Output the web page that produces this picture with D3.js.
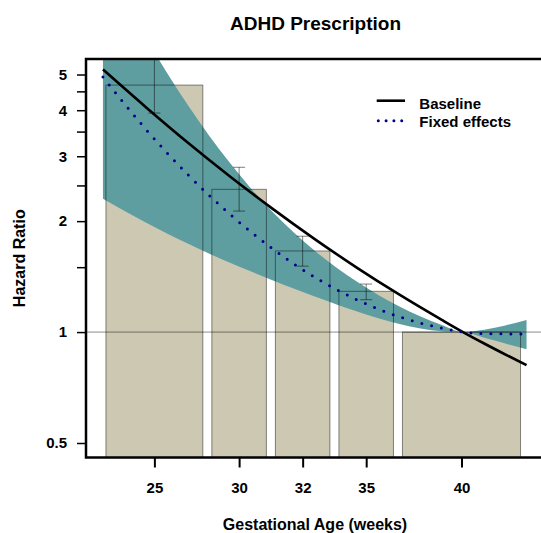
<!DOCTYPE html>
<html>
<head>
<meta charset="utf-8">
<script src="https://cdn.jsdelivr.net/npm/d3@7"></script>
<style>
  html, body { margin: 0; padding: 0; background: #fff; }
  svg { display: block; }
  text { font-family: "Liberation Sans", Arial, Helvetica, sans-serif; font-weight: bold; fill: #000; }
</style>
</head>
<body>
<svg id="chart" width="541" height="533"></svg>
<script>
// Histogram bars: gestational-age bins (weeks) and their hazard ratios
const barLabels = ["25", "30", "32", "35", "40"];
const binStart  = [23, 28, 31, 34, 37];
const binEnd    = [28, 31, 34, 37, 43];
const barHR     = [4.68, 2.44, 1.66, 1.29, 1.00];
const barLow    = [3.93, 2.13, 1.51, 1.224, null];
const barHigh   = [5.57, 2.80, 1.82, 1.35, null];

// Baseline model curve
const baseWeeks = [23, 25, 27, 29, 31, 33, 35, 37, 39, 40, 41, 43];
const baseHR    = [5.16, 4.09, 3.27, 2.645, 2.163, 1.788, 1.494, 1.263, 1.079, 1.00, 0.931, 0.813];

// Fixed-effects model curve
const fixedWeeks = [23, 25, 27, 29, 31, 33, 35, 37, 39, 40, 41, 43];
const fixedHR    = [4.92, 3.565, 2.678, 2.087, 1.684, 1.409, 1.223, 1.100, 1.025, 1.00, 0.990, 0.988];

// 95% confidence band of the fixed-effects curve
const bandWeeks = [23, 24, 25, 26, 27, 28, 29, 30, 31, 32, 33, 34, 35, 36, 37, 38, 39, 40, 41, 42, 43];
const bandUpper = [10.28, 8.0, 6.33, 5.08, 4.137, 3.421, 2.874, 2.45, 2.122, 1.866, 1.663, 1.50, 1.369, 1.261, 1.173, 1.102, 1.045, 1.0, 1.015, 1.042, 1.079];
const bandLower = [2.30, 2.134, 1.986, 1.854, 1.738, 1.634, 1.542, 1.459, 1.382, 1.312, 1.248, 1.19, 1.137, 1.09, 1.052, 1.023, 1.005, 1.0, 0.965, 0.931, 0.898];

// Axis ticks
const yMajor = [0.5, 1, 2, 3, 4, 5];
const yMinor = [1.5, 2.5, 3.5, 4.5];

const svg = d3.select("#chart");

// plot frame
const frame = { left: 86, right: 545, top: 59, bottom: 457.5 };

const x = d3.scaleLinear().domain([23, 43]).range([102.94, 526.54]);
const y = d3.scaleLog().domain([0.5, 5]).range([443, 74.5]);

// bars are inset inside their bins
const padL = 3, padR = 6;
const barShift = (padL - padR) / 2;

svg.append("defs").append("clipPath").attr("id", "plotClip")
  .append("rect")
  .attr("x", frame.left).attr("y", frame.top)
  .attr("width", frame.right - frame.left).attr("height", frame.bottom - frame.top);

const plot = svg.append("g").attr("clip-path", "url(#plotClip)");
const bars = d3.range(barLabels.length);

// bar fills
plot.append("g").selectAll("rect").data(bars).join("rect")
  .attr("x", i => x(binStart[i]) + padL)
  .attr("y", i => y(barHR[i]))
  .attr("width", i => x(binEnd[i]) - x(binStart[i]) - padL - padR)
  .attr("height", i => frame.bottom - y(barHR[i]))
  .attr("fill", "#CDC8B1");

// confidence band
const bandIdx = d3.range(bandWeeks.length);
plot.append("path")
  .attr("d", d3.area()
    .x(i => x(bandWeeks[i]))
    .y0(i => y(bandLower[i]))
    .y1(i => y(bandUpper[i]))
    .curve(d3.curveMonotoneX)(bandIdx))
  .attr("fill", "#5F9EA0");

// bar outlines
plot.append("g").selectAll("rect").data(bars).join("rect")
  .attr("x", i => x(binStart[i]) + padL)
  .attr("y", i => y(barHR[i]))
  .attr("width", i => x(binEnd[i]) - x(binStart[i]) - padL - padR)
  .attr("height", i => frame.bottom - y(barHR[i]))
  .attr("fill", "none")
  .attr("stroke", "rgba(0,0,0,0.45)")
  .attr("stroke-width", 1);

// reference line at HR = 1
plot.append("line")
  .attr("x1", frame.left).attr("x2", frame.right)
  .attr("y1", y(1)).attr("y2", y(1))
  .attr("stroke", "rgba(0,0,0,0.45)")
  .attr("stroke-width", 1);

// error bars
const ebars = bars.filter(i => barLow[i] != null);
const ebG = plot.append("g")
  .attr("stroke", "rgba(0,0,0,0.5)")
  .attr("stroke-width", 1)
  .attr("fill", "none");
const cx = i => (x(binStart[i]) + x(binEnd[i])) / 2 + barShift;
ebG.selectAll("line.v").data(ebars).join("line").attr("class", "v")
  .attr("x1", cx).attr("x2", cx)
  .attr("y1", i => y(barLow[i])).attr("y2", i => y(barHigh[i]));
ebG.selectAll("line.lo").data(ebars).join("line").attr("class", "lo")
  .attr("x1", i => cx(i) - 6).attr("x2", i => cx(i) + 6)
  .attr("y1", i => y(barLow[i])).attr("y2", i => y(barLow[i]));
ebG.selectAll("line.hi").data(ebars).join("line").attr("class", "hi")
  .attr("x1", i => cx(i) - 6).attr("x2", i => cx(i) + 6)
  .attr("y1", i => y(barHigh[i])).attr("y2", i => y(barHigh[i]));

// baseline curve
plot.append("path")
  .attr("d", d3.line()
    .x(i => x(baseWeeks[i]))
    .y(i => y(baseHR[i]))
    .curve(d3.curveMonotoneX)(d3.range(baseWeeks.length)))
  .attr("fill", "none")
  .attr("stroke", "#000")
  .attr("stroke-width", 2.6);

// fixed-effects curve (dotted)
plot.append("path")
  .attr("d", d3.line()
    .x(i => x(fixedWeeks[i]))
    .y(i => y(fixedHR[i]))
    .curve(d3.curveMonotoneX)(d3.range(fixedWeeks.length)))
  .attr("fill", "none")
  .attr("stroke", "#00008B")
  .attr("stroke-width", 3)
  .attr("stroke-linecap", "round")
  .attr("stroke-dasharray", "0 10");

// frame
svg.append("rect")
  .attr("x", frame.left).attr("y", frame.top)
  .attr("width", frame.right - frame.left).attr("height", frame.bottom - frame.top)
  .attr("fill", "none").attr("stroke", "#000").attr("stroke-width", 2.5);

// y axis
const yAxis = svg.append("g")
  .attr("transform", `translate(${frame.left},0)`)
  .call(d3.axisLeft(y).tickValues(yMajor).tickFormat(d3.format("")).tickSize(9).tickPadding(10));
yAxis.select(".domain").remove();
yAxis.selectAll("text").attr("font-size", 15).attr("font-family", null);
yAxis.selectAll("line").attr("stroke-width", 1.5);

const yAxisMinor = svg.append("g")
  .attr("transform", `translate(${frame.left},0)`)
  .call(d3.axisLeft(y).tickValues(yMinor).tickFormat("").tickSize(9));
yAxisMinor.select(".domain").remove();
yAxisMinor.selectAll("line").attr("stroke-width", 1.5);

// x axis: ticks at bar centres
const xAxis = svg.append("g")
  .attr("transform", `translate(${barShift},${frame.bottom})`)
  .call(d3.axisBottom(x)
    .tickValues(bars.map(i => (binStart[i] + binEnd[i]) / 2))
    .tickFormat((d, i) => barLabels[i])
    .tickSize(10).tickPadding(15));
xAxis.select(".domain").remove();
xAxis.selectAll("text").attr("font-size", 15).attr("font-family", null);
xAxis.selectAll("line").attr("stroke-width", 2);

// titles
svg.append("text")
  .attr("x", 315.5).attr("y", 29.5)
  .attr("text-anchor", "middle")
  .attr("font-size", 19)
  .text("ADHD Prescription");

svg.append("text")
  .attr("x", 315).attr("y", 530)
  .attr("text-anchor", "middle")
  .attr("font-size", 16)
  .text("Gestational Age (weeks)");

svg.append("text")
  .attr("transform", `translate(25,${(frame.top + frame.bottom) / 2}) rotate(-90)`)
  .attr("text-anchor", "middle")
  .attr("font-size", 16)
  .text("Hazard Ratio");

// legend
const legend = svg.append("g");
legend.append("line")
  .attr("x1", 376.7).attr("x2", 405).attr("y1", 100.7).attr("y2", 100.7)
  .attr("stroke", "#000").attr("stroke-width", 2.6);
legend.append("text").attr("x", 419.3).attr("y", 108.5).attr("font-size", 15).text("Baseline");
legend.append("line")
  .attr("x1", 378.3).attr("x2", 405).attr("y1", 120.7).attr("y2", 120.7)
  .attr("stroke", "#00008B").attr("stroke-width", 3)
  .attr("stroke-linecap", "round").attr("stroke-dasharray", "0 7.8");
legend.append("text").attr("x", 419.3).attr("y", 127).attr("font-size", 15).text("Fixed effects");
</script>
</body>
</html>
